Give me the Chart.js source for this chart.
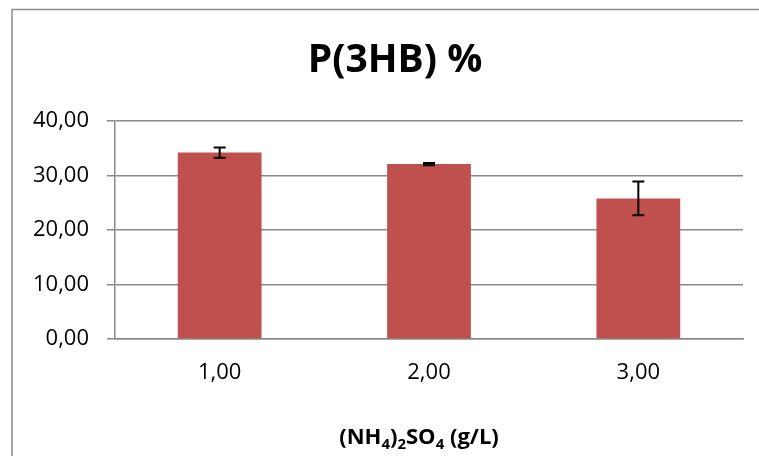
<!DOCTYPE html>
<html>
<head>
<meta charset="utf-8">
<title>P(3HB) %</title>
<script src="https://cdn.jsdelivr.net/npm/chart.js@4"></script>
<style>
  html, body { margin: 0; padding: 0; background: #fff; }
  #wrap { width: 759px; height: 456px; position: relative; }
</style>
</head>
<body>
<div id="wrap"><canvas id="chart" width="759" height="456"></canvas></div>
<script>
// chart data
const categories = ['1,00', '2,00', '3,00'];
const p3hbValues = [34.2, 32.1, 25.8];
const p3hbErrors = [0.95, 0.2, 3.1];
const yTicks = [0, 10, 20, 30, 40];

const chartTitle = 'P(3HB) %';
// x axis title, split into normal / subscript runs
const xTitleParts = [
    ['(NH', false], ['4', true], [')', false], ['2', true],
    ['SO', false], ['4', true], [' (g/L)', false]
];

const barColor = '#C0504D';
const gridColor = '#8a8a8a';
const fontFamily = 'Open Sans';

// format numbers the way the original does (comma decimals)
function fmt(v) {
    return Number(v).toFixed(2).replace('.', ',');
}

// outer chart frame (left and top edges visible in the reference)
const framePlugin = {
    id: 'frame',
    beforeDraw(chart) {
        const ctx = chart.ctx;
        ctx.save();
        ctx.fillStyle = '#fff';
        ctx.fillRect(0, 0, chart.width, chart.height);
        ctx.strokeStyle = '#8c8c8c';
        ctx.lineWidth = 1.5;
        ctx.beginPath();
        ctx.moveTo(12, chart.height + 5);
        ctx.lineTo(12, 9.5);
        ctx.lineTo(chart.width + 5, 9.5);
        ctx.stroke();
        ctx.restore();
    }
};

// error bars drawn through the y scale
const errorBarPlugin = {
    id: 'errorBars',
    afterDatasetsDraw(chart) {
        const ctx = chart.ctx;
        const yScale = chart.scales.y;
        const meta = chart.getDatasetMeta(0);
        ctx.save();
        ctx.strokeStyle = '#000';
        ctx.lineWidth = 2;
        meta.data.forEach(function(bar, i) {
            const v = p3hbValues[i];
            const e = p3hbErrors[i];
            const top = yScale.getPixelForValue(v + e);
            const bottom = yScale.getPixelForValue(v - e);
            const x = bar.x;
            ctx.beginPath();
            ctx.moveTo(x, top);
            ctx.lineTo(x, bottom);
            ctx.moveTo(x - 6, top);
            ctx.lineTo(x + 6, top);
            ctx.moveTo(x - 6, bottom);
            ctx.lineTo(x + 6, bottom);
            ctx.stroke();
        });
        ctx.restore();
    }
};

// titles: the chart title sits a bit left of the plot centre, and the
// x title needs real subscripts, so both are drawn here
const titlesPlugin = {
    id: 'titles',
    afterDraw(chart) {
        const ctx = chart.ctx;
        const area = chart.chartArea;
        ctx.save();
        ctx.fillStyle = '#000';
        ctx.textBaseline = 'alphabetic';

        // main title
        ctx.font = 'bold 39px "' + fontFamily + '"';
        ctx.textAlign = 'center';
        ctx.fillText(chartTitle, area.left + 280, area.top - 49);

        // x axis title with subscripts
        const mainFont = 'bold 22px "' + fontFamily + '"';
        const subFont = 'bold 15px "' + fontFamily + '"';
        ctx.textAlign = 'left';
        let total = 0;
        xTitleParts.forEach(function(p) {
            ctx.font = p[1] ? subFont : mainFont;
            total += ctx.measureText(p[0]).width;
        });
        let x = area.left + 304 - total / 2;
        const base = area.bottom + 105;
        xTitleParts.forEach(function(p) {
            ctx.font = p[1] ? subFont : mainFont;
            ctx.fillText(p[0], x, p[1] ? base + 5 : base);
            x += ctx.measureText(p[0]).width;
        });
        ctx.restore();
    }
};

function initializeChart() {
    const ctx = document.getElementById('chart').getContext('2d');
    const myChart = new Chart(ctx, {
        type: 'bar',
        data: {
            labels: categories,
            datasets: [{
                label: chartTitle,
                data: p3hbValues,
                backgroundColor: barColor,
                borderWidth: 0,
                categoryPercentage: 1,
                barPercentage: 0.4
            }]
        },
        options: {
            responsive: false,
            animation: false,
            layout: {
                padding: { left: 12, right: 16, top: 121, bottom: 0 }
            },
            scales: {
                y: {
                    min: 0,
                    max: 40,
                    afterBuildTicks(scale) {
                        scale.ticks = yTicks.map(function(v) { return { value: v }; });
                    },
                    afterFit(scale) {
                        scale.width = 103;
                    },
                    ticks: {
                        callback: function(v) { return fmt(v); },
                        color: '#000',
                        padding: 18,
                        font: { family: fontFamily, size: 22 }
                    },
                    grid: {
                        color: gridColor,
                        lineWidth: 1.5,
                        tickLength: 8,
                        drawTicks: true
                    },
                    border: {
                        display: true,
                        color: gridColor,
                        width: 1.5
                    }
                },
                x: {
                    afterFit(scale) {
                        scale.height = 117;
                    },
                    ticks: {
                        color: '#000',
                        padding: 21,
                        font: { family: fontFamily, size: 22 }
                    },
                    grid: {
                        display: false,
                        drawTicks: false
                    },
                    border: {
                        display: true,
                        color: gridColor,
                        width: 1.5
                    }
                }
            },
            plugins: {
                legend: { display: false },
                tooltip: { enabled: false },
                title: { display: false }
            }
        },
        plugins: [framePlugin, errorBarPlugin, titlesPlugin]
    });
    return myChart;
}

document.addEventListener('DOMContentLoaded', initializeChart);
</script>
</body>
</html>
